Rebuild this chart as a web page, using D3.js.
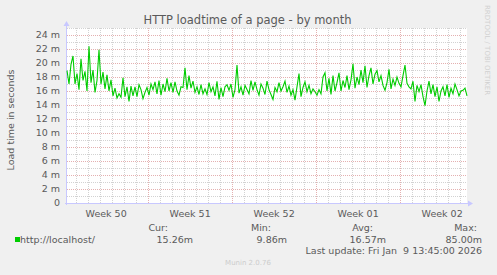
<!DOCTYPE html>
<meta charset="utf-8">
<head>
	<script src="https://d3js.org/d3.v7.min.js"></script>
	<style>
		body { margin: 0; background: #f0f0f0; }
		text { font-family: "DejaVu Sans", sans-serif; fill: #5a5a5a; }
	</style>
</head>
<body>
<div id="chart"></div>
<script>
	// load time samples, in milliseconds, one every 4 hours (oldest first)
	var loadTimes = [
		18.9, 17.0, 19.8, 21.0, 17.0, 18.5, 16.2, 20.6, 17.5, 18.8,
		16.0, 22.4, 17.2, 19.0, 15.8, 17.5, 21.9, 17.0, 18.7, 16.3,
		18.3, 16.0, 17.6, 15.3, 16.4, 15.0, 15.6, 15.1,
		17.9, 15.2, 16.6, 14.5, 16.7, 15.3, 16.6, 15.2, 16.9, 16.2,
		14.9, 15.8, 16.5, 15.4, 17.0, 16.2, 17.3, 15.6, 17.5, 15.4,
		17.0, 15.9, 17.8, 16.0, 17.2, 15.8, 17.3, 16.0, 15.4, 16.6,
		16.5, 19.3, 16.2, 18.2, 16.4, 17.4, 15.8, 16.6, 15.5, 16.9,
		15.6, 16.3, 15.5, 17.2, 15.9, 16.6, 15.3, 17.4, 14.8, 16.5,
		15.2, 16.6, 16.9, 16.1, 17.0, 15.1, 16.2, 19.7, 15.7, 16.6,
		15.4, 16.8, 16.2, 15.6, 17.5, 16.1, 17.3, 16.2, 15.4, 17.0,
		16.4, 15.5, 17.4, 16.2, 15.5, 14.8, 16.5, 15.9,
		17.2, 16.0, 16.6, 17.4, 15.8, 16.7, 15.4, 16.2, 14.7, 16.6,
		18.5, 15.2, 16.5, 17.3, 15.9, 16.8, 15.6, 16.3, 15.9, 15.4,
		16.2, 15.6, 18.0, 18.6, 16.0, 17.8,
		15.5, 18.2, 16.0, 17.2, 18.6, 16.0, 17.5, 16.5, 18.2, 16.2,
		17.6, 19.9, 16.4, 18.0, 16.9, 19.0, 17.2, 19.6, 16.5, 18.2,
		19.3, 17.0, 18.4, 18.9, 17.3, 18.2, 16.8,
		16.1, 17.2, 19.1, 16.3, 17.7, 16.8, 18.0, 17.1, 16.6, 18.2,
		19.7, 17.1, 16.6, 16.3, 17.4, 14.5, 16.8, 15.9, 16.9, 15.2,
		13.9, 16.0, 17.4, 15.6, 16.9, 15.2, 16.6, 14.5, 16.0, 16.6,
		15.3, 16.9, 15.1, 16.4, 15.6, 17.0, 16.2, 15.3, 16.0, 16.1,
		16.4, 15.3
	];
	var stepHours = 4;
	var yTicks = [0, 2, 4, 6, 8, 10, 12, 14, 16, 18, 20, 22, 24];
	var legendHeads = ["Cur:", "Min:", "Avg:", "Max:"];
	var legendValues = ["15.26m", "9.86m", "16.57m", "85.00m"];

	(function () {
	var W = 497, H = 275;
	var plotLeft = 67, plotRight = 467, plotTop = 28, plotBottom = 203;
	var endTime = Date.UTC(2026, 0, 9, 13, 45);
	var startTime = endTime - 400 * 7200 * 1000;

	var svg = d3.select("#chart").append("svg")
		.attr("width", W).attr("height", H);

	svg.append("rect").attr("width", W).attr("height", H).attr("fill", "#f0f0f0");

	var x = d3.scaleUtc().domain([startTime, endTime]).range([plotLeft, plotRight]);
	var y = d3.scaleLinear().domain([0, 25]).range([plotBottom, plotTop]);

	svg.append("rect")
		.attr("x", plotLeft).attr("y", plotTop)
		.attr("width", plotRight - plotLeft).attr("height", plotBottom - plotTop)
		.attr("fill", "#ffffff");

	function px(v) { return Math.round(v) + 0.5; }

	// minor grid
	var g = svg.append("g").attr("shape-rendering", "crispEdges");
	g.selectAll(".hmin").data(d3.range(1, 26, 2))
		.enter().append("line")
		.attr("x1", plotLeft).attr("x2", plotRight)
		.attr("y1", function (d) { return px(y(d)); })
		.attr("y2", function (d) { return px(y(d)); })
		.attr("stroke", "#d2d2d2").attr("stroke-dasharray", "1,1");
	var days = d3.utcDay.range(new Date(startTime), new Date(endTime))
		.filter(function (d) { return d.getUTCDay() !== 0; });
	g.selectAll(".vmin").data(days).enter().append("line")
		.attr("x1", function (d) { return px(x(d)); })
		.attr("x2", function (d) { return px(x(d)); })
		.attr("y1", plotTop).attr("y2", plotBottom)
		.attr("stroke", "#d2d2d2").attr("stroke-dasharray", "1,1");

	// major grid
	g.selectAll(".hmaj").data(yTicks.slice(1)).enter().append("line")
		.attr("x1", plotLeft).attr("x2", plotRight)
		.attr("y1", function (d) { return px(y(d)); })
		.attr("y2", function (d) { return px(y(d)); })
		.attr("stroke", "#e4b0b0").attr("stroke-dasharray", "1,1");
	var weeks = d3.utcSunday.range(new Date(startTime), new Date(endTime));
	g.selectAll(".vmaj").data(weeks).enter().append("line")
		.attr("x1", function (d) { return px(x(d)); })
		.attr("x2", function (d) { return px(x(d)); })
		.attr("y1", plotTop).attr("y2", plotBottom)
		.attr("stroke", "#e4b0b0").attr("stroke-dasharray", "1,1");

	// axes lines + arrows
	var axisCol = "#c8c8ff";
	svg.append("line").attr("x1", plotLeft - 0.5).attr("x2", plotLeft - 0.5)
		.attr("y1", plotTop - 3).attr("y2", plotBottom + 2).attr("stroke", axisCol);
	svg.append("line").attr("x1", plotLeft - 2).attr("x2", plotRight + 2)
		.attr("y1", plotBottom + 0.5).attr("y2", plotBottom + 0.5).attr("stroke", axisCol);
	svg.append("path").attr("d", "M" + (plotLeft - 3.5) + "," + (plotTop - 2) + "L" + (plotLeft + 2.5) + "," + (plotTop - 2) + "L" + (plotLeft - 0.5) + "," + (plotTop - 7) + "Z")
		.attr("fill", axisCol);
	svg.append("path").attr("d", "M" + (plotRight + 1) + "," + (plotBottom - 2.5) + "L" + (plotRight + 1) + "," + (plotBottom + 3.5) + "L" + (plotRight + 6) + "," + (plotBottom + 0.5) + "Z")
		.attr("fill", axisCol);

	// y labels
	svg.append("g").selectAll("text").data(yTicks).enter().append("text")
		.attr("x", 60).attr("y", function (d) { return y(d) + 3.2; })
		.attr("text-anchor", "end").attr("font-size", "9.5px")
		.text(function (d) { return d === 0 ? "0" : d + " m"; });

	// week labels, centred in the middle of each week
	var labelWeeks = d3.utcSunday.range(d3.utcSunday.floor(new Date(startTime)), new Date(endTime))
		.map(function (d) { return new Date(+d + 3.5 * 864e5); })
		.filter(function (d) { return d >= startTime && d <= endTime; });
	svg.append("g").selectAll("text").data(labelWeeks).enter().append("text")
		.attr("x", function (d) { return x(d); }).attr("y", 216.5)
		.attr("text-anchor", "middle").attr("font-size", "9.5px")
		.text(function (d) { return "Week " + d3.utcFormat("%V")(d); });

	// data line
	var line = d3.line()
		.x(function (d, i) { return x(startTime + i * stepHours * 3600e3); })
		.y(function (d) { return y(d); });
	svg.append("path").datum(loadTimes)
		.attr("d", line).attr("fill", "none")
		.attr("stroke", "#00cc00").attr("stroke-width", 1.1);

	// title and side texts
	svg.append("text").attr("x", 247.5).attr("y", 24).attr("text-anchor", "middle")
		.attr("font-size", "11.5px").text("HTTP loadtime of a page - by month");
	svg.append("text").attr("transform", "translate(14,120) rotate(-90)")
		.attr("text-anchor", "middle").attr("font-size", "9.5px")
		.text("Load time in seconds");
	svg.append("text").attr("transform", "translate(485,5) rotate(90)")
		.attr("font-size", "7px").style("fill", "#d0d0d0")
		.text("RRDTOOL / TOBI OETIKER");

	// legend
	svg.append("rect").attr("x", 15).attr("y", 237).attr("width", 5).attr("height", 5)
		.attr("fill", "#00cc00");
	svg.append("text").attr("x", 20).attr("y", 243).attr("font-size", "9.5px")
		.text("http://localhost/");
	var headEnds = [168, 271, 373, 477];
	var valEnds = [193, 287, 386, 482];
	svg.append("g").selectAll("text").data(legendHeads).enter().append("text")
		.attr("x", function (d, i) { return headEnds[i]; }).attr("y", 231)
		.attr("text-anchor", "end").attr("font-size", "9.5px")
		.text(function (d) { return d; });
	svg.append("g").selectAll("text").data(legendValues).enter().append("text")
		.attr("x", function (d, i) { return valEnds[i]; }).attr("y", 243)
		.attr("text-anchor", "end").attr("font-size", "9.5px")
		.text(function (d) { return d; });
	svg.append("text").attr("x", 482).attr("y", 253.5).attr("text-anchor", "end")
		.attr("font-size", "9.5px")
		.style("white-space", "pre")
		.text("Last update: Fri Jan  9 13:45:00 2026");
	svg.append("text").attr("x", 248).attr("y", 265).attr("text-anchor", "middle")
		.attr("font-size", "7px").style("fill", "#cccccc")
		.text("Munin 2.0.76");
	})();
</script>
</body>
